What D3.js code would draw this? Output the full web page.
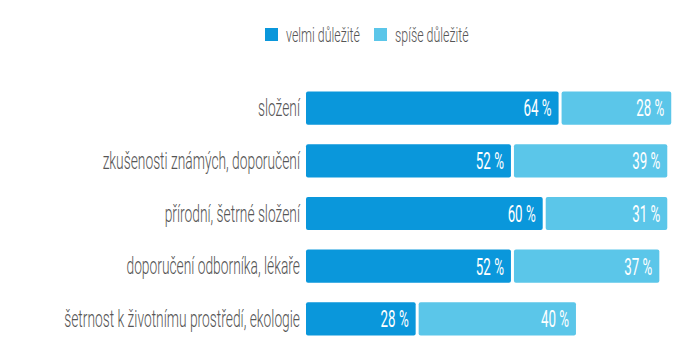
<!DOCTYPE html>
<html><head><meta charset="utf-8">
<script src="https://cdn.jsdelivr.net/npm/d3@7"></script>
<style>
body{margin:0;background:#fff;}
text{font-family:"Roboto","DejaVu Sans Condensed",sans-serif;font-weight:300;}
text.val{font-weight:400;}
</style></head>
<body><svg id="c" width="690" height="350"></svg>
<script>
const categories = ["složení","zkušenosti známých, doporučení","přírodní, šetrné složení","doporučení odborníka, lékaře","šetrnost k životnímu prostředí, ekologie"];
const seriesNames = ["velmi důležité","spíše důležité"];
const velmi = [64,52,60,52,28];
const spise = [28,39,31,37,40];
const colors = ["#0a97db","#5bc6e9"];

const svg = d3.select("#c");
const x = d3.scaleLinear().domain([0,100]).range([306,703]);
const y = d3.scaleBand().domain(categories).range([82,345]).paddingInner(0.37).paddingOuter(0.18);
const gap = 3;

function txt(px, py, s, opts){
  return svg.append("text")
    .attr("class",opts.cls||null)
    .attr("transform",`translate(${px},${py}) scale(${opts.sx},1)`)
    .attr("dy","0.36em").attr("font-size",opts.size)
    .attr("fill",opts.fill).attr("text-anchor",opts.anchor||"start").text(s);
}

const rows = categories.map((c,i)=>({c, v:[velmi[i],spise[i]]}));
rows.forEach(r=>{
  let start=0;
  const cy = y(r.c)+y.bandwidth()/2;
  r.v.forEach((v,k)=>{
    const x0 = x(start) + (k>0?gap/2:0);
    const x1 = x(start+v) - (k===0?gap/2:0);
    svg.append("rect").attr("x",x0).attr("y",y(r.c)).attr("width",x1-x0).attr("height",y.bandwidth())
      .attr("rx",2).attr("fill",colors[k]);
    txt(x1-7, cy, v+" %", {size:23, sx:0.58, fill:"#fff", anchor:"end", cls:"val"});
    start+=v;
  });
  txt(300, cy, r.c, {size:23, sx:0.6, fill:"#555", anchor:"end"});
});

// legend
const lg = [{n:seriesNames[0],x:265},{n:seriesNames[1],x:374}];
lg.forEach((l,k)=>{
  svg.append("rect").attr("x",l.x).attr("y",28).attr("width",13).attr("height",13).attr("fill",colors[k]);
  txt(l.x+21, 35, l.n, {size:20, sx:0.62, fill:"#555"});
});
</script></body></html>
